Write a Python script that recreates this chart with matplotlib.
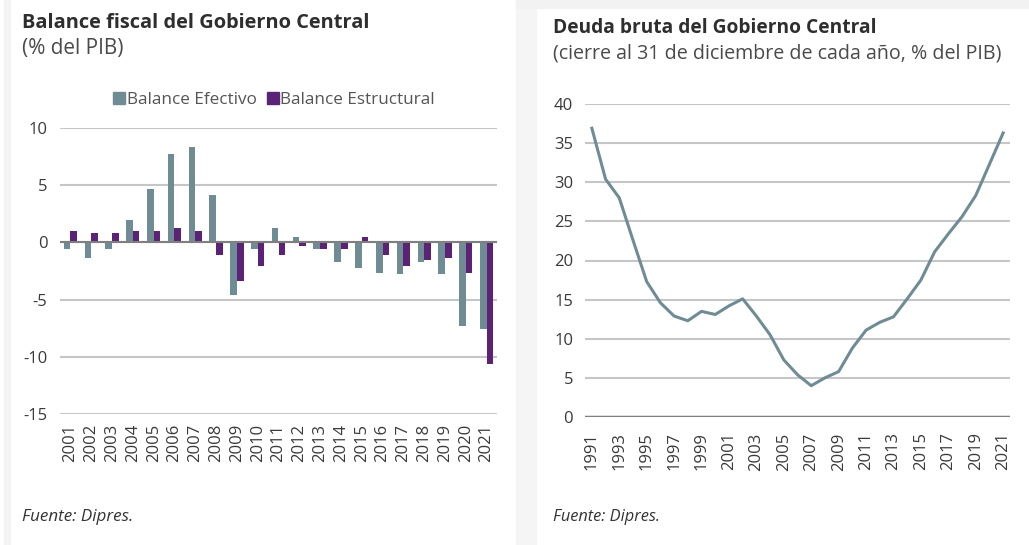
import matplotlib
matplotlib.use("Agg")
import matplotlib.pyplot as plt
from matplotlib.patches import Rectangle
import numpy as np

# ---- data ----
years_bal = [str(y) for y in range(2001, 2022)]
balance_efectivo = [-0.6, -1.4, -0.6, 2.0, 4.7, 7.7, 8.3, 4.1, -4.6, -0.6, 1.3, 0.5,
                    -0.6, -1.7, -2.2, -2.7, -2.8, -1.7, -2.8, -7.3, -7.6]
balance_estructural = [1.0, 0.8, 0.8, 1.0, 1.0, 1.3, 1.0, -1.1, -3.4, -2.1, -1.1, -0.3,
                       -0.6, -0.6, 0.5, -1.1, -2.1, -1.5, -1.4, -2.7, -10.6]

years_debt = list(range(1991, 2022))
deuda_bruta = [36.9, 30.4, 28.0, 22.6, 17.3, 14.6, 12.9, 12.3, 13.5, 13.1, 14.2, 15.1,
               12.9, 10.5, 7.3, 5.4, 4.0, 5.0, 5.8, 8.8, 11.1, 12.1, 12.8, 15.1,
               17.5, 21.1, 23.4, 25.6, 28.3, 32.3, 36.3]
debt_ticks = list(range(1991, 2022, 2))

c_efec = "#6F8C95"
c_estr = "#5B2275"
c_grid = "#C4C6C8"
c_text = "#3A3A3A"
plt.rcParams["font.family"] = ["Open Sans", "DejaVu Sans"]
plt.rcParams["axes.unicode_minus"] = False

W, H = 1029, 545
fig = plt.figure(figsize=(W / 100, H / 100), dpi=100)
fig.patch.set_facecolor("white")
renderer = fig.canvas.get_renderer()

def fx(px):
    return px / W

def fy(py):
    return 1 - py / H

def fit_text(x0, x1, base_y, s, size0, **kw):
    t = fig.text(fx(x0), fy(base_y), s, fontsize=size0, va="baseline", ha="left", **kw)
    w = t.get_window_extent(renderer).width
    t.set_fontsize(size0 * (x1 - x0) / w)
    return t

# subtle panel shading
fig.patches.append(Rectangle((fx(4), 0), fx(6), 1, transform=fig.transFigure,
                             color="#F4F4F4", zorder=0))
fig.patches.append(Rectangle((fx(516), 0), fx(20), 1, transform=fig.transFigure,
                             color="#F5F5F5", zorder=0))
fig.patches.append(Rectangle((fx(516), fy(8)), 1, 8 / H, transform=fig.transFigure,
                             color="#F2F2F2", zorder=0))

# ---- left panel ----
ax1 = fig.add_axes([fx(60), fy(414), fx(497 - 60), (414 - 128) / H])
x = np.arange(len(years_bal))
bw = 0.32
ax1.bar(x - bw / 2, balance_efectivo, width=bw, color=c_efec, zorder=3)
ax1.bar(x + bw / 2, balance_estructural, width=bw, color=c_estr, zorder=3)
ax1.set_ylim(-15, 10)
ax1.set_xlim(-0.5, len(years_bal) - 0.5)
ax1.set_yticks([10, 5, 0, -5, -10, -15])
ax1.set_xticks(x)
ax1.set_xticklabels(years_bal, rotation=90)
ax1.yaxis.grid(True, color=c_grid, linewidth=1.5, zorder=0)
ax1.axhline(0, color="#7F7F7F", linewidth=1.5, zorder=4)
for s in ax1.spines.values():
    s.set_visible(False)
ax1.tick_params(axis="both", length=0, labelsize=12, colors=c_text)
ax1.tick_params(axis="y", pad=9)
ax1.tick_params(axis="x", pad=7)

fit_text(22, 368, 28, "Balance fiscal del Gobierno Central", 13,
         fontweight="bold", color="#2E2E2E")
fit_text(22, 123, 54, "(% del PIB)", 12, color="#4A4A4A")

handles = [Rectangle((0, 0), 1, 1, color=c_efec), Rectangle((0, 0), 1, 1, color=c_estr)]
fig.legend(handles, ["Balance Efectivo", "Balance Estructural"], loc="center",
           bbox_to_anchor=(fx(274), fy(100)), ncol=2, frameon=False, fontsize=12.3,
           handlelength=0.7, handleheight=0.7, handletextpad=0.1, columnspacing=0.6,
           labelcolor="#555555", borderpad=0, borderaxespad=0)

fit_text(22, 133, 521, "Fuente: Dipres.", 10, style="italic", color="#333333")

# ---- right panel ----
ax2 = fig.add_axes([fx(585), fy(417), fx(1010 - 585), (417 - 104) / H])
ax2.plot(years_debt, deuda_bruta, color=c_efec, linewidth=2.2, zorder=3)
ax2.set_ylim(0, 40)
ax2.set_xlim(1990.5, 2021.5)
ax2.set_yticks(range(0, 41, 5))
ax2.set_xticks(debt_ticks)
ax2.set_xticklabels([str(t) for t in debt_ticks], rotation=90)
ax2.yaxis.grid(True, color=c_grid, linewidth=1.5, zorder=0)
ax2.axhline(0, color="#7F7F7F", linewidth=2.5, zorder=4)
for s in ax2.spines.values():
    s.set_visible(False)
ax2.tick_params(axis="both", length=0, labelsize=12, colors=c_text)
ax2.tick_params(axis="y", pad=8.5)
ax2.tick_params(axis="x", pad=11)

fit_text(553, 872, 33, "Deuda bruta del Gobierno Central", 13,
         fontweight="bold", color="#2E2E2E")
fit_text(553, 1000, 58, "(cierre al 31 de diciembre de cada año, % del PIB)", 12,
         color="#4A4A4A")
fit_text(553, 660, 521, "Fuente: Dipres.", 10, style="italic", color="#333333")

fig.savefig("out.png", dpi=100, facecolor="white")
